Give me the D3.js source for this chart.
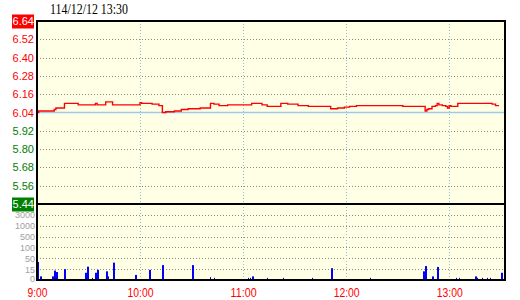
<!DOCTYPE html>
<html><head><meta charset="utf-8">
<script src="https://cdn.jsdelivr.net/npm/d3@7"></script>
<style>
html,body{margin:0;padding:0;background:#fff;}
svg{display:block;}
</style></head>
<body>
<script>
// ---- data ----
const titleText = "114/12/12 13:30";
const refPrice = 6.04;
const priceTicks = [6.64, 6.52, 6.40, 6.28, 6.16, 6.04, 5.92, 5.80, 5.68, 5.56, 5.44];
const volTicks = [0, 15, 50, 100, 500, 1000, 3000];
const hourMinutes = [0, 60, 120, 180, 240];
const hourLabels = ["9:00", "10:00", "11:00", "12:00", "13:00"];
// price line: minutes after 9:00 and price (step after)
const priceMinutes = [0, 1, 10, 11, 16, 24, 34, 35, 40, 44, 60, 61, 67, 71, 73, 75, 80, 84, 88, 95, 101, 103, 106, 111, 125, 131, 134, 142, 146, 152, 158, 171, 175, 179, 182, 186, 213, 226, 227, 228, 230, 232, 233, 234, 236, 238, 239, 240, 241, 245, 265, 267, 269];
const prices = [6.04, 6.05, 6.06, 6.07, 6.10, 6.09, 6.10, 6.09, 6.11, 6.09, 6.105, 6.10, 6.095, 6.085, 6.04, 6.045, 6.05, 6.06, 6.065, 6.07, 6.10, 6.095, 6.085, 6.09, 6.10, 6.09, 6.08, 6.10, 6.095, 6.085, 6.08, 6.065, 6.07, 6.075, 6.08, 6.085, 6.08, 6.05, 6.06, 6.065, 6.08, 6.085, 6.10, 6.09, 6.085, 6.08, 6.07, 6.085, 6.08, 6.10, 6.095, 6.085, 6.085];
// volume bars
const volMinutes = [0, 2, 9, 10, 11, 13, 16, 26, 28, 29, 32, 34, 35, 40, 41, 43, 44, 45, 57, 65, 73, 90, 101, 103, 109, 123, 124, 125, 126, 134, 143, 160, 162, 171, 174, 194, 225, 226, 230, 232, 233, 240, 241, 242, 243, 244, 246, 249, 254, 255, 256, 259, 262, 264, 270];
const volumes = [38, 5, 5, 13, 11, 1, 15, 1, 10, 23, 3, 10, 14, 12, 5, 1, 36, 3, 7, 14, 28, 28, 4, 3, 1, 3, 3, 5, 1, 3, 3, 3, 1, 18, 1, 3, 12, 25, 5, 1, 22, 1, 1, 1, 1, 3, 3, 1, 1, 5, 3, 3, 3, 3, 10];

// ---- layout ----
const W = 520, H = 300;
const L = 37, R = 505, T = 21, MID = 204, B = 280;
const svg = d3.select("body").append("svg").attr("width", W).attr("height", H);

const x = d3.scaleLinear().domain([0, 272.5]).range([L, R]);
const y = d3.scaleLinear().domain([5.44, 6.64]).range([MID, T]);
const vStep = (B - MID) / 7;
const yv = d3.scaleLinear().domain(volTicks).range(volTicks.map((d, i) => B - i * vStep)).clamp(true);

const red = "#ff0000", green = "#008000";

// background
svg.append("rect").attr("x", L).attr("y", T).attr("width", R - L).attr("height", B - T).attr("fill", "#ffffe6");

// horizontal grid price
svg.append("g").selectAll("line").data(priceTicks.filter(d => d !== 6.64 && d !== 5.44 && d !== refPrice))
  .join("line").attr("x1", L).attr("x2", R).attr("y1", d => Math.round(y(d)) + 0.5).attr("y2", d => Math.round(y(d)) + 0.5)
  .attr("stroke", "#8c8c8c").attr("stroke-dasharray", "1,2");
// horizontal grid volume
svg.append("g").selectAll("line").data(volTicks.filter(d => d !== 0))
  .join("line").attr("x1", L).attr("x2", R).attr("y1", d => Math.round(yv(d)) + 0.5).attr("y2", d => Math.round(yv(d)) + 0.5)
  .attr("stroke", "#8c8c8c").attr("stroke-dasharray", "1,2");
// vertical hour grid
svg.append("g").selectAll("line").data(hourMinutes.slice(1))
  .join("line").attr("x1", d => Math.round(x(d)) + 0.5).attr("x2", d => Math.round(x(d)) + 0.5).attr("y1", T).attr("y2", B)
  .attr("stroke", "#8fbbdc").attr("stroke-dasharray", "1,2");

// reference line
svg.append("line").attr("x1", L).attr("x2", R).attr("y1", y(refPrice)).attr("y2", y(refPrice))
  .attr("stroke", "#9ccbec").attr("stroke-width", 1.5);

// price line
const pts = priceMinutes.map((m, i) => [m, prices[i]]);
svg.append("path").datum(pts)
  .attr("d", d3.line().x(d => x(d[0])).y(d => y(d[1])).curve(d3.curveStepAfter))
  .attr("fill", "none").attr("stroke", red).attr("stroke-width", 1.4);

// volume bars
svg.append("g").selectAll("rect").data(volMinutes.map((m, i) => [m, volumes[i]]))
  .join("rect").attr("x", d => Math.round(x(d[0])) ).attr("width", d => d[1] >= 5 ? 2 : 1)
  .attr("y", d => yv(d[1])).attr("height", d => B - yv(d[1]))
  .attr("fill", "#0000ff");

// frame
const frame = svg.append("g").attr("stroke", "#000").attr("stroke-width", 2).attr("fill", "none");
frame.append("rect").attr("x", L).attr("y", T).attr("width", R - L).attr("height", B - T);
frame.append("line").attr("x1", L).attr("x2", R).attr("y1", MID).attr("y2", MID);

// price axis labels
const pAxis = svg.append("g").attr("transform", `translate(${L - 3},0)`)
  .call(d3.axisLeft(y).tickValues(priceTicks).tickSize(0).tickPadding(0).tickFormat(d3.format(".2f")));
pAxis.select(".domain").remove();
pAxis.selectAll("text").attr("font-family", "Liberation Sans, Arial, sans-serif").attr("font-size", 11)
  .attr("fill", d => d >= refPrice ? red : green);
pAxis.selectAll(".tick").filter(d => d === 6.64 || d === 5.44).each(function(d) {
  const g = d3.select(this);
  g.insert("rect", "text").attr("x", -22).attr("y", -7).attr("width", 22).attr("height", 14)
    .attr("fill", d === 6.64 ? red : green);
  g.select("text").attr("fill", "#fff");
});

// volume axis labels
const vAxis = svg.append("g").attr("transform", `translate(${L - 2},0)`)
  .call(d3.axisLeft(yv).tickValues(volTicks).tickSize(0).tickPadding(0).tickFormat(d3.format("d")));
vAxis.select(".domain").remove();
vAxis.selectAll("text").attr("font-family", "Liberation Sans, Arial, sans-serif").attr("font-size", 9.5)
  .attr("fill", "#a0a0a0")
  .each(function(d) { const n = String(d).length; d3.select(this).attr("textLength", n * 5).attr("lengthAdjust", "spacingAndGlyphs"); });
vAxis.selectAll(".tick").filter(d => d === 0).select("text").attr("dy", "0.2em");

// time axis labels
const xAxis = svg.append("g").attr("transform", `translate(0,${B + 8})`)
  .call(d3.axisBottom(x).tickValues(hourMinutes).tickSize(0).tickPadding(0).tickFormat((d, i) => hourLabels[i]));
xAxis.select(".domain").remove();
xAxis.selectAll("text").attr("font-family", "Liberation Sans, Arial, sans-serif").attr("font-size", 12)
  .attr("fill", red)
  .each(function(d, i) { const n = hourLabels[i].length; d3.select(this).attr("textLength", n === 4 ? 20 : 26).attr("lengthAdjust", "spacingAndGlyphs"); });

// title
svg.append("text").attr("x", 50).attr("y", 13.5).text(titleText)
  .attr("font-family", "Liberation Serif, Times New Roman, serif").attr("font-size", 14)
  .attr("textLength", 78).attr("lengthAdjust", "spacingAndGlyphs").attr("fill", "#000");
</script>
</body></html>
